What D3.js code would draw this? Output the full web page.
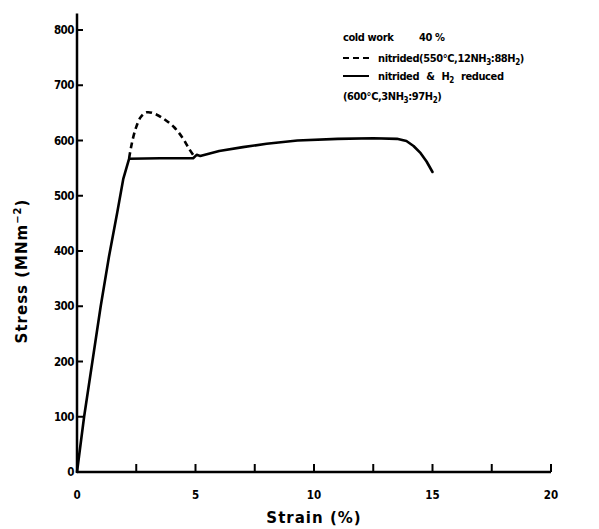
<!DOCTYPE html>
<html><head><meta charset="utf-8">
<script src="https://cdn.jsdelivr.net/npm/d3@7"></script>
<style>body{margin:0;background:#fff}svg{display:block}</style>
</head><body>
<svg id="c" width="599" height="529"></svg>
<script>
const xTicks = [0, 2.5, 5, 7.5, 10, 12.5, 15, 17.5, 20];
const xTickLabels = [0, 5, 10, 15, 20];
const yTicks = [0, 100, 200, 300, 400, 500, 600, 700, 800];
const solidStrain = [0, 0.3, 0.65, 1.0, 1.35, 1.7, 1.95, 2.2, 3.5, 4.9, 5.05, 5.2, 6.0, 7.0, 8.0, 9.3, 11.0, 12.5, 13.5, 13.9, 14.2, 14.5, 14.75, 15.0];
const solidStress = [0, 100, 200, 300, 390, 470, 530, 567, 568, 568, 574, 572, 581, 588, 594, 600, 603, 604, 603, 599, 590, 577, 562, 543];
const dashStrain = [2.2, 2.3, 2.48, 2.7, 2.95, 3.3, 3.7, 4.1, 4.45, 4.7, 4.93];
const dashStress = [568, 592, 622, 643, 651, 648, 638, 624, 605, 587, 572];

const svg = d3.select("#c");
const x = d3.scaleLinear().domain([0, 20]).range([77, 551]);
const y = d3.scaleLinear().domain([0, 800]).range([472, 30]);
const font = "'DejaVu Sans Condensed','DejaVu Sans',sans-serif";

// axes lines
svg.append("line").attr("x1", x(0)).attr("x2", x(20)).attr("y1", y(0)).attr("y2", y(0))
  .attr("stroke", "#000").attr("stroke-width", 2.5);
svg.append("line").attr("x1", x(0)).attr("x2", x(0)).attr("y1", y(0) + 1).attr("y2", y(830))
  .attr("stroke", "#000").attr("stroke-width", 2.5);

// x ticks (inward)
svg.selectAll(".xt").data(xTicks).enter().append("line")
  .attr("x1", d => x(d)).attr("x2", d => x(d)).attr("y1", y(0)).attr("y2", y(0) - 8)
  .attr("stroke", "#000").attr("stroke-width", 2);
svg.selectAll(".xl").data(xTickLabels).enter().append("text")
  .attr("x", d => x(d)).attr("y", 499).attr("text-anchor", "middle")
  .attr("font-family", font).attr("font-weight", "bold").attr("font-size", 11.5).text(d => d);

// y ticks (inward)
svg.selectAll(".yt").data(yTicks.filter(d => d > 0)).enter().append("line")
  .attr("x1", x(0)).attr("x2", x(0) + 6).attr("y1", d => y(d)).attr("y2", d => y(d))
  .attr("stroke", "#000").attr("stroke-width", 2);
svg.selectAll(".yl").data(yTicks).enter().append("text")
  .attr("x", 74).attr("y", d => y(d) + 4).attr("text-anchor", "end")
  .attr("font-family", font).attr("font-weight", "bold").attr("font-size", 11.5)
  .attr("letter-spacing", -0.5).text(d => d);

// axis titles
svg.append("text").attr("x", x(10)).attr("y", 523).attr("text-anchor", "middle")
  .attr("font-family", "'DejaVu Sans',sans-serif").attr("font-size", 15).attr("font-weight", "bold")
  .attr("letter-spacing", 1).text("Strain (%)");
const yt = svg.append("text").attr("transform", "translate(27,271) rotate(-90)").attr("text-anchor", "middle")
  .attr("font-family", "'DejaVu Sans',sans-serif").attr("font-size", 15).attr("font-weight", "bold")
  .attr("letter-spacing", 1);
yt.append("tspan").text("Stress (MNm");
yt.append("tspan").attr("dy", -6).attr("font-size", 10).text("−2");
yt.append("tspan").attr("dy", 6).text(")");

// curves
const solid = solidStrain.map((s, i) => [s, solidStress[i]]);
const dashed = dashStrain.map((s, i) => [s, dashStress[i]]);
const lineLin = d3.line().x(d => x(d[0])).y(d => y(d[1])).curve(d3.curveLinear);
const lineSmooth = d3.line().x(d => x(d[0])).y(d => y(d[1])).curve(d3.curveCatmullRom);
svg.append("path").attr("d", lineLin(solid)).attr("fill", "none").attr("stroke", "#000")
  .attr("stroke-width", 2.6).attr("stroke-linejoin", "round").attr("stroke-linecap", "round");
svg.append("path").attr("d", lineSmooth(dashed)).attr("fill", "none").attr("stroke", "#000")
  .attr("stroke-width", 2.6).attr("stroke-dasharray", "6,4");

// legend
const lg = svg.append("g").attr("font-family", font).attr("font-weight", "bold").attr("font-size", 11)
  .attr("letter-spacing", -0.4);
lg.append("text").attr("x", 343).attr("y", 41).text("cold work");
lg.append("text").attr("x", 419).attr("y", 41).text("40 %");
lg.append("line").attr("x1", 343).attr("x2", 369).attr("y1", 58).attr("y2", 58)
  .attr("stroke", "#000").attr("stroke-width", 2).attr("stroke-dasharray", "6,4");
const t2 = lg.append("text").attr("x", 378).attr("y", 62);
t2.append("tspan").text("nitrided(550°C,12NH");
t2.append("tspan").attr("dy", 3).attr("font-size", 8).text("3");
t2.append("tspan").attr("dy", -3).text(":88H");
t2.append("tspan").attr("dy", 3).attr("font-size", 8).text("2");
t2.append("tspan").attr("dy", -3).text(")");
lg.append("line").attr("x1", 343).attr("x2", 369).attr("y1", 76).attr("y2", 76)
  .attr("stroke", "#000").attr("stroke-width", 2);
const t3 = lg.append("text").attr("x", 378).attr("y", 80).attr("word-spacing", 4);
t3.append("tspan").text("nitrided & H");
t3.append("tspan").attr("dy", 3).attr("font-size", 8).text("2");
t3.append("tspan").attr("dy", -3).text(" reduced");
const t4 = lg.append("text").attr("x", 343).attr("y", 100);
t4.append("tspan").text("(600°C,3NH");
t4.append("tspan").attr("dy", 3).attr("font-size", 8).text("3");
t4.append("tspan").attr("dy", -3).text(":97H");
t4.append("tspan").attr("dy", 3).attr("font-size", 8).text("2");
t4.append("tspan").attr("dy", -3).text(")");
</script>
</body></html>
